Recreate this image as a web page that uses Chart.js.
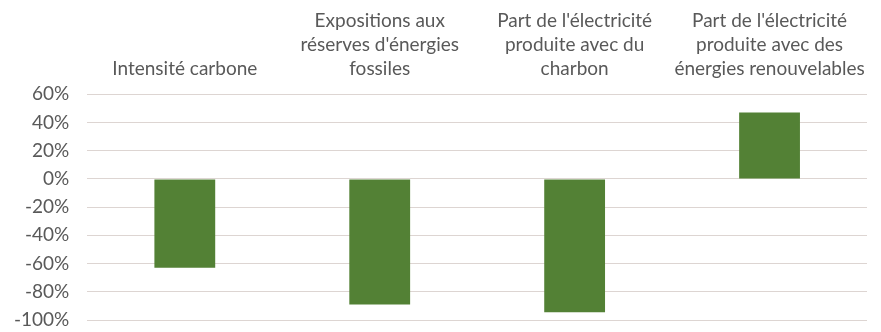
<!DOCTYPE html>
<html>
<head>
<meta charset="utf-8">
<script src="https://cdn.jsdelivr.net/npm/chart.js@4/dist/chart.umd.min.js"></script>
<style>
  html, body { margin: 0; padding: 0; background: #fff; }
  #wrap { width: 881px; height: 332px; }
</style>
</head>
<body>
<div id="wrap"><canvas id="chart" width="881" height="332"></canvas></div>
<script>
// categories (one array of lines per label)
const categories = [
  ['Intensité carbone'],
  ['Expositions aux', "réserves d'énergies", 'fossiles'],
  ["Part de l'électricité", 'produite avec du', 'charbon'],
  ["Part de l'électricité", 'produite avec des', 'énergies renouvelables']
];
// values in %
const values = [-63, -89, -94.5, 47];
// y axis range / ticks
const yMin = -100;
const yMax = 60;
const yStep = 20;

const ctx = document.getElementById('chart').getContext('2d');

new Chart(ctx, {
  type: 'bar',
  data: {
    labels: categories,
    datasets: [{
      data: values,
      backgroundColor: '#538135',
      borderWidth: 0,
      categoryPercentage: 1,
      barPercentage: 0.312,
    }],
  },
  options: {
    responsive: false,
    animation: false,
    layout: {
      padding: { left: -4, right: 14, top: -5, bottom: 0 },
    },
    scales: {
      x: {
        position: 'top',
        grid: { display: false, drawTicks: false },
        border: { display: false },
        ticks: {
          autoSkip: false,
          color: '#595959',
          padding: 14,
          maxRotation: 0,
          font: { family: 'Lato', size: 19, lineHeight: 1.25 },
        },
        // don't let the long labels push the plot area inwards
        afterFit: s => { s.paddingLeft = 0; s.paddingRight = 0; },
      },
      y: {
        min: yMin,
        max: yMax,
        grid: { color: '#ddd5d2', drawTicks: false },
        border: { display: false },
        ticks: {
          autoSkip: false,
          stepSize: yStep,
          color: '#595959',
          padding: 18,
          font: { family: 'Lato', size: 19 },
          callback: v => v + '%',
        },
        afterFit: s => { s.paddingTop = 11; s.paddingBottom = 12; },
      },
    },
    plugins: {
      legend: { display: false },
      tooltip: { enabled: false },
    },
  },
});
</script>
</body>
</html>
